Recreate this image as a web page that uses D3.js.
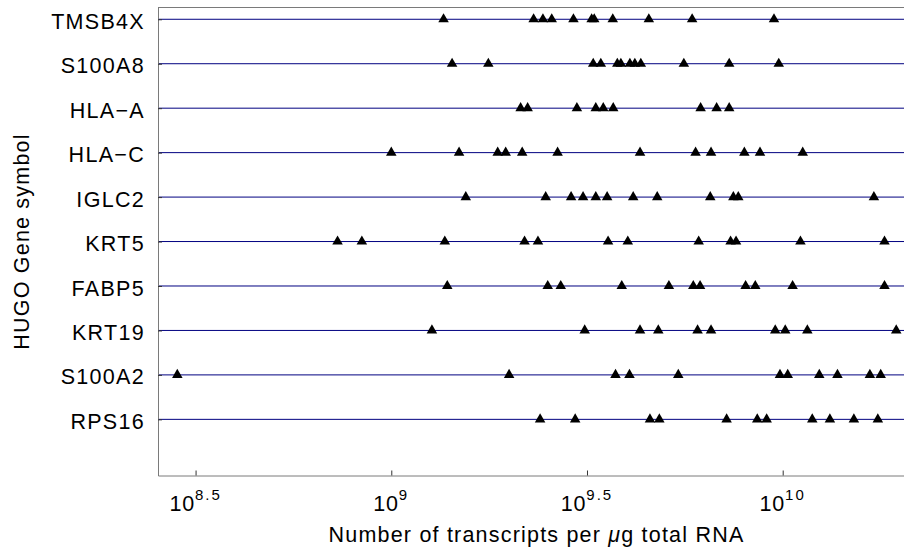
<!DOCTYPE html>
<html>
<head>
<meta charset="utf-8">
<script src="https://cdn.jsdelivr.net/npm/d3@7"></script>
<style>
  body { margin: 0; background: #fff; }
  text { font-family: "Liberation Sans", Arial, Helvetica, sans-serif; fill: #000; }
</style>
</head>
<body>
<script>
// Width and height
var width = 904;
var height = 550;

// Data (transcripts per ug total RNA)
var genes = ["TMSB4X", "S100A8", "HLA\u2212A", "HLA\u2212C", "IGLC2", "KRT5", "FABP5", "KRT19", "S100A2", "RPS16"];
var tmsb4x = [1.36e9, 2.31e9, 2.44e9, 2.57e9, 2.92e9, 3.25e9, 3.30e9, 3.68e9, 4.55e9, 5.87e9, 9.50e9];
var s100a8 = [1.43e9, 1.77e9, 3.28e9, 3.43e9, 3.78e9, 3.86e9, 4.07e9, 4.19e9, 4.34e9, 5.59e9, 7.30e9, 9.77e9];
var hlaA   = [2.14e9, 2.23e9, 2.98e9, 3.33e9, 3.48e9, 3.69e9, 6.17e9, 6.78e9, 7.30e9];
var hlaC   = [1.00e9, 1.49e9, 1.87e9, 1.96e9, 2.16e9, 2.66e9, 4.32e9, 5.99e9, 6.56e9, 7.98e9, 8.75e9, 1.125e10];
var iglc2  = [1.55e9, 2.48e9, 2.88e9, 3.09e9, 3.33e9, 3.56e9, 4.15e9, 4.78e9, 6.53e9, 7.48e9, 7.70e9, 1.71e10];
var krt5   = [7.29e8, 8.41e8, 1.37e9, 2.19e9, 2.37e9, 3.58e9, 4.02e9, 6.10e9, 7.36e9, 7.60e9, 1.11e10, 1.82e10];
var fabp5  = [1.39e9, 2.51e9, 2.71e9, 3.88e9, 5.12e9, 5.91e9, 6.15e9, 8.04e9, 8.51e9, 1.06e10, 1.82e10];
var krt19  = [1.27e9, 3.12e9, 4.32e9, 4.81e9, 6.06e9, 6.56e9, 9.57e9, 1.015e10, 1.156e10, 1.95e10];
var s100a2 = [2.84e8, 2.00e9, 3.74e9, 4.06e9, 5.41e9, 9.84e9, 1.03e10, 1.24e10, 1.38e10, 1.67e10, 1.78e10];
var rps16  = [2.40e9, 2.95e9, 4.58e9, 4.84e9, 7.19e9, 8.61e9, 9.10e9, 1.19e10, 1.32e10, 1.52e10, 1.75e10];
var counts = [tmsb4x, s100a8, hlaA, hlaC, iglc2, krt5, fabp5, krt19, s100a2, rps16];

// x tick exponents
var tickExps = [8.5, 9, 9.5, 10];

// flatten to points
var points = [];
counts.forEach(function(arr, i) {
  arr.forEach(function(v) { points.push({gene: i, value: v}); });
});

// Plot box
var plot = {left: 158, right: 915, top: 7.5, bottom: 475.5};

// Scales
var xScale = d3.scaleLog()
               .domain([Math.pow(10, 8.404), Math.pow(10, 10.338)])
               .range([plot.left, plot.right]);
var yScale = d3.scaleLinear()
               .domain([-0.265, 10.263])
               .range([plot.top, plot.bottom]);

var svg = d3.select("body")
            .append("svg")
            .attr("width", width)
            .attr("height", height);

// Gene lines
svg.selectAll("line.gene")
  .data(genes)
  .enter()
  .append("line")
    .attr("class", "gene")
    .attr("x1", plot.left)
    .attr("x2", plot.right)
    .attr("y1", function(d, i) { return yScale(i); })
    .attr("y2", function(d, i) { return yScale(i); })
    .style("stroke", "#000080")
    .style("stroke-width", "1px");

// Top frame line
svg.append("line")
  .attr("x1", plot.left).attr("x2", plot.right)
  .attr("y1", plot.top).attr("y2", plot.top)
  .style("stroke", "#7a7a7a");

// Y axis
var yAxis = d3.axisLeft(yScale)
              .tickValues(d3.range(genes.length))
              .tickFormat(function(i) { return genes[i]; })
              .tickSize(-4)
              .tickSizeOuter(0)
              .tickPadding(13);
var gy = svg.append("g")
  .attr("transform", "translate(" + plot.left + ",0)")
  .call(yAxis);
gy.select(".domain").style("stroke", "#7a7a7a");
gy.selectAll(".tick line").style("stroke", "#333");
gy.selectAll(".tick text")
  .attr("dy", "0.42em")
  .style("font-size", "21.5px")
  .style("letter-spacing", "1.3px")
  .style("font-family", "'Liberation Sans', Arial, sans-serif");

// X axis
var xAxis = d3.axisBottom(xScale)
              .tickValues(tickExps.map(function(e) { return Math.pow(10, e); }))
              .tickFormat("")
              .tickSize(-5)
              .tickSizeOuter(0);
var gx = svg.append("g")
  .attr("transform", "translate(0," + plot.bottom + ")")
  .call(xAxis);
gx.select(".domain").style("stroke", "#7a7a7a");
gx.selectAll(".tick line").style("stroke", "#333");

// X tick labels as 10^e
var xl = svg.selectAll("text.xtick")
  .data(tickExps)
  .enter()
  .append("text")
    .attr("class", "xtick")
    .attr("x", function(d) { return xScale(Math.pow(10, d)); })
    .attr("y", 511)
    .attr("text-anchor", "middle")
    .style("font-size", "21.5px")
    .style("letter-spacing", "0.8px");
xl.append("tspan").text("10");
xl.append("tspan")
  .attr("dy", -11)
  .style("font-size", "15px")
  .style("letter-spacing", "2px")
  .text(function(d) { return String(d); });

// Data points
svg.selectAll("path.pt")
  .data(points)
  .enter()
  .append("path")
    .attr("class", "pt")
    .attr("d", d3.symbol().type(d3.symbolTriangle).size(48))
    .attr("transform", function(d) {
      return "translate(" + xScale(d.value) + "," + yScale(d.gene) + ")";
    })
    .attr("fill", "#000");

// Axis titles
svg.append("text")
  .attr("x", (plot.left + plot.right) / 2)
  .attr("y", 541.5)
  .attr("text-anchor", "middle")
  .style("font-size", "21.5px")
  .style("letter-spacing", "1.2px")
  .html("Number of transcripts per <tspan font-style='italic'>\u03bc</tspan>g total RNA");

svg.append("text")
  .attr("transform", "translate(28.5," + ((plot.top + plot.bottom) / 2) + ") rotate(-90)")
  .attr("text-anchor", "middle")
  .style("font-size", "21.5px")
  .style("letter-spacing", "1.2px")
  .text("HUGO Gene symbol");
</script>
</body>
</html>
